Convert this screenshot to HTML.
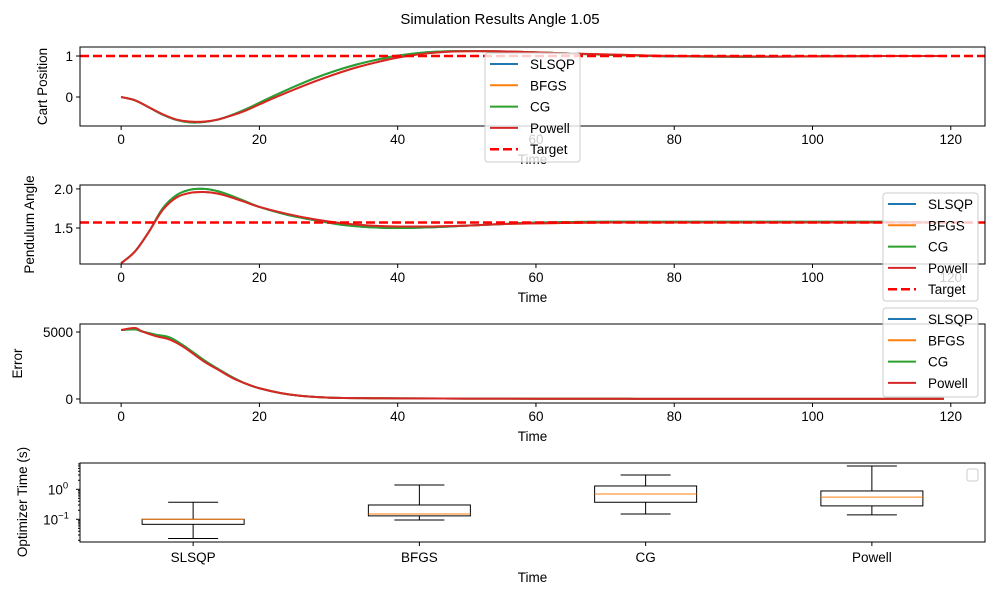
<!DOCTYPE html>
<html><head><meta charset="utf-8"><style>
body{margin:0;background:#fff}
svg{font-family:"Liberation Sans","DejaVu Sans",sans-serif}
</style></head><body>
<svg id="c" width="1000" height="600" xmlns="http://www.w3.org/2000/svg"></svg>
<script>
// ---- data ----
const tCart=[0,2,4,6,8,10,12,14,16,18,20,22,25,28,31,34,37,40,44,48,52,56,60,65,70,75,80,90,100,110,119];
const cartPowell=[0,-0.08,-0.25,-0.42,-0.55,-0.6,-0.6,-0.55,-0.45,-0.33,-0.18,-0.03,0.18,0.38,0.56,0.72,0.85,0.96,1.06,1.11,1.12,1.11,1.09,1.06,1.04,1.02,1.0,0.99,0.99,1.0,1.0];
const cartCG=[0,-0.08,-0.25,-0.43,-0.56,-0.62,-0.61,-0.55,-0.44,-0.30,-0.14,0.02,0.25,0.46,0.64,0.79,0.91,1.01,1.09,1.12,1.12,1.11,1.09,1.06,1.03,1.01,0.99,0.98,0.99,1.0,1.0];
const cartTarget=1.0;
const tAng=[0,2,4,6,8,10,12,14,16,18,20,24,28,32,36,40,45,50,55,60,70,80,90,100,110,119];
const angCG=[1.05,1.2,1.45,1.75,1.92,1.99,2.0,1.97,1.91,1.84,1.77,1.67,1.6,1.54,1.51,1.5,1.51,1.53,1.55,1.57,1.58,1.58,1.58,1.58,1.58,1.57];
const angPowell=[1.05,1.2,1.45,1.73,1.89,1.95,1.96,1.94,1.89,1.83,1.77,1.68,1.61,1.56,1.53,1.52,1.52,1.53,1.55,1.56,1.57,1.57,1.57,1.57,1.57,1.57];
const angTarget=1.5708;
const tErr=[0,2,3,5,7,9,12,14,16,18,20,23,26,30,35,40,50,60,80,100,119];
const errPowell=[5150,5300,5050,4700,4450,3900,2800,2200,1600,1150,800,450,230,100,60,50,30,20,10,5,5];
const errCG=[5150,5200,5050,4800,4600,4000,2900,2250,1650,1150,800,450,230,100,60,50,30,20,10,5,5];
const methods=["SLSQP","BFGS","CG","Powell"];
const whiskLo=[0.023,0.095,0.15,0.14];
const q1=[0.068,0.13,0.37,0.28];
const med=[0.1,0.15,0.7,0.55];
const q3=[0.1,0.3,1.29,0.88];
const whiskHi=[0.37,1.39,3.0,6.0];
const xTicks=[0,20,40,60,80,100,120];

const C={blue:"#1f77b4",orange:"#ff7f0e",green:"#2ca02c",red:"#d62728"};
const svg=document.getElementById('c');
const NS="http://www.w3.org/2000/svg";
function el(tag,attrs,parent,txt){const e=document.createElementNS(NS,tag);for(const k in attrs)e.setAttribute(k,attrs[k]);if(txt!==undefined)e.textContent=txt;(parent||svg).appendChild(e);return e;}
const L=80,R=985;
const xs=v=>L+(v+5.95)*(R-L)/130.9;

function tx(x,y,s,anchor,parent,size,rot){const a={x:x,y:y,'font-size':size||13.5,'text-anchor':anchor||'middle',fill:'#000'};if(rot)a.transform=rot;return el('text',a,parent,s);}
function smooth(P){
  let d='M'+P[0][0]+','+P[0][1];
  for(let i=0;i<P.length-1;i++){
    const p0=P[Math.max(0,i-1)],p1=P[i],p2=P[i+1],p3=P[Math.min(P.length-1,i+2)];
    const c1=[p1[0]+(p2[0]-p0[0])/6,p1[1]+(p2[1]-p0[1])/6];
    const c2=[p2[0]-(p3[0]-p1[0])/6,p2[1]-(p3[1]-p1[1])/6];
    d+=' C'+c1[0]+','+c1[1]+' '+c2[0]+','+c2[1]+' '+p2[0]+','+p2[1];
  }
  return d;
}

let t=tx(500,24,"Simulation Results Angle 1.05","middle",svg,15);



function timePanel(name,top,bot,ymin,ymax,yticks,ytl,ylabel,ylx,series,target){
  const g=el('g',{},svg);
  
  
  const ys=v=>bot-(v-ymin)*(bot-top)/(ymax-ymin);
  const cp=name+'-clip';
  const d=el('clipPath',{id:cp},g);el('rect',{x:L,y:top,width:R-L,height:bot-top},d);
  const pg=el('g',{'clip-path':'url(#'+cp+')'},g);
  series.forEach(s=>{
    const p=el('path',{d:smooth(s.t.map((tt,i)=>[xs(tt),ys(s.v[i])])),fill:'none',stroke:s.c,'stroke-width':2,'stroke-linejoin':'round'},pg);
    
    
  });
  if(target!==undefined){
    const p=el('line',{x1:L,x2:R,y1:ys(target),y2:ys(target),stroke:'#ff0000','stroke-width':2.5,'stroke-dasharray':'9,4'},pg);
    
    
  }
  el('rect',{x:L,y:top,width:R-L,height:bot-top,fill:'none',stroke:'#000','stroke-width':1},g);
  xTicks.forEach(v=>{const x=xs(v);el('line',{x1:x,x2:x,y1:bot,y2:bot+4,stroke:'#000'},g);tx(x,bot+18,String(v),'middle',g);});
  yticks.forEach((v,i)=>{const y=ys(v);el('line',{x1:L-4,x2:L,y1:y,y2:y,stroke:'#000'},g);tx(L-7,y+5,ytl[i],'end',g);});
  const xl=tx((L+R)/2,bot+38,"Time",'middle',g);
  
  
  const yl=tx(ylx,(top+bot)/2,ylabel,'middle',g,13.5,'rotate(-90 '+ylx+' '+((top+bot)/2)+')');
  
  
}
function legend(name,x,y,w,h,hasTarget){
  const g=el('g',{},svg);
  
  
  el('rect',{x:x,y:y,width:w,height:h,rx:3,fill:'#fff','fill-opacity':0.8,stroke:'#ccc'},g);
  const names=["SLSQP","BFGS","CG","Powell"],cols=[C.blue,C.orange,C.green,C.red];
  const n=hasTarget?5:4;
  for(let i=0;i<n;i++){
    const yy=y+11+i*21.3;
    const e=el('g',{},g);
    
    
    if(i<4)el('line',{x1:x+5,x2:x+33,y1:yy,y2:yy,stroke:cols[i],'stroke-width':2},e);
    else el('line',{x1:x+5,x2:x+33,y1:yy,y2:yy,stroke:'#ff0000','stroke-width':2.5,'stroke-dasharray':'9,4'},e);
    tx(x+45,yy+5,i<4?names[i]:"Target",'start',e);
  }
}
const mk=(tt,cg,pw)=>[{n:"SLSQP",t:tt,v:cg,c:C.blue},{n:"BFGS",t:tt,v:pw,c:C.orange},{n:"CG",t:tt,v:cg,c:C.green},{n:"Powell",t:tt,v:pw,c:C.red}];
timePanel('cart-position-panel',47,126,-0.707,1.22,[0,1],["0","1"],"Cart Position",47,mk(tCart,cartCG,cartPowell),cartTarget);
legend('cart-legend',485,53,95,109,true);
timePanel('pendulum-angle-panel',185,264,1.04,2.05,[1.5,2.0],["1.5","2.0"],"Pendulum Angle",34,mk(tAng,angCG,angPowell),angTarget);
legend('angle-legend',883,193,95,108,true);
timePanel('error-panel',324,403,-300,5600,[0,5000],["0","5000"],"Error",22,mk(tErr,errCG,errPowell));
legend('error-legend',883,308,95,89,false);

// box plot
(function(){
  const top=463,bot=542;
  const g=el('g',{},svg);
  
  
  const ys=v=>489.3-Math.log10(v)*30;
  const bx=i=>L+(i+0.5)*(R-L)/4;
  const hw=51;
  methods.forEach((m,i)=>{
    const x=bx(i);
    const b=el('g',{},g);
    
    
    el('line',{x1:x,x2:x,y1:ys(whiskHi[i]),y2:ys(q3[i]),stroke:'#000'},b);
    el('line',{x1:x,x2:x,y1:ys(q1[i]),y2:ys(whiskLo[i]),stroke:'#000'},b);
    el('line',{x1:x-25,x2:x+25,y1:ys(whiskHi[i]),y2:ys(whiskHi[i]),stroke:'#000'},b);
    el('line',{x1:x-25,x2:x+25,y1:ys(whiskLo[i]),y2:ys(whiskLo[i]),stroke:'#000'},b);
    el('rect',{x:x-hw,y:ys(q3[i]),width:2*hw,height:ys(q1[i])-ys(q3[i]),fill:'none',stroke:'#000'},b);
    el('line',{x1:x-hw,x2:x+hw,y1:ys(med[i]),y2:ys(med[i]),stroke:C.orange},b);
    el('line',{x1:x,x2:x,y1:bot,y2:bot+4,stroke:'#000'},g);
    tx(x,bot+20,m,'middle',g);
  });
  el('rect',{x:L,y:top,width:R-L,height:bot-top,fill:'none',stroke:'#000'},g);
  [-2,-1,0].forEach(e=>{for(let k=1;k<10;k++){const v=k*Math.pow(10,e);const y=ys(v);if(y<top||y>bot)continue;
    el('line',{x1:L-(k===1?4:2),x2:L,y1:y,y2:y,stroke:'#000'},g);}});
  const t0=tx(L-22,ys(1)+5,"10",'middle',g);el('tspan',{dy:-6,'font-size':9.5},t0,"0");
  const t1=tx(L-24,ys(0.1)+5,"10",'middle',g);el('tspan',{dy:-6,'font-size':9.5},t1,"−1");
  const lg=el('rect',{x:967,y:469,width:11,height:12,rx:2,fill:'#fff',stroke:'#ccc'},g);
  
  
  const xl=tx((L+R)/2,582,"Time",'middle',g);
  
  
  const yl=tx(27,502,"Optimizer Time (s)",'middle',g,13.5,'rotate(-90 27 502)');
  
  
})();
</script>
</body></html>
